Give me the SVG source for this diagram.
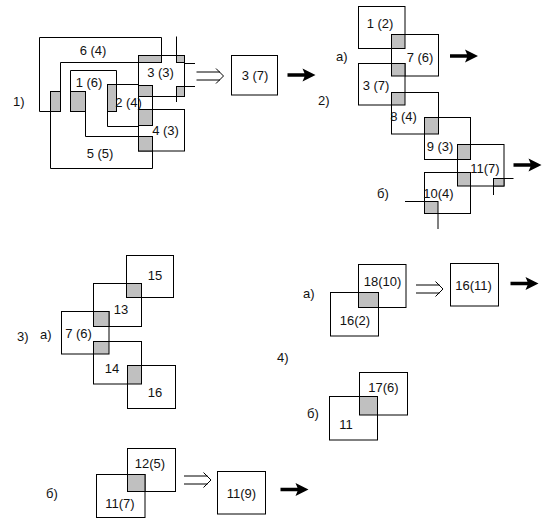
<svg xmlns="http://www.w3.org/2000/svg" xmlns:xlink="http://www.w3.org/1999/xlink" width="553" height="528" viewBox="0 0 553 528">
<style>
  .bx{fill:#ffffff;stroke:#000;stroke-width:1}
  .ln{fill:none;stroke:#000;stroke-width:1}
  .gr{fill:#c0c0c0;stroke:#000;stroke-width:1}
  text{font-family:"Liberation Sans",Arial,sans-serif;font-size:13px;fill:#111;text-anchor:middle}
  .lbl{text-anchor:start}
  .dbl{fill:none;stroke:#000;stroke-width:1}
</style>
<defs>
  <path id="bold" d="M0,-1.7 H17 L15,-6.5 L28,0 L15,6.5 L17,1.7 H0 Z" fill="#000"/>
  <g id="dblarrow" class="dbl">
    <line x1="0" y1="-4" x2="23.5" y2="-4"/>
    <line x1="0" y1="4" x2="23.5" y2="4"/>
    <polyline points="19.5,-7.5 27,0 19.5,7.5"/>
  </g>
</defs>
<rect width="553" height="528" fill="#fff"/>

<!-- Part 1 -->
<g id="part1">
  <text class="lbl" x="13" y="106">1)</text>
  <g id="n1-regions">
    <path class="ln" d="M50.5 111.5 H39.5 V37.5 H161.5 V55.5"/>
    <path class="ln" d="M60.5 91.5 V62.5 H138.5"/>
    <path class="ln" d="M70.5 91.5 V70.5 H116.5 V84.5"/>
    <path class="ln" d="M107.5 111.5 V126.5 H138.5"/>
    <path class="ln" d="M107.5 84.5 H152.5 V168.5 H50.5 V111.5"/>
    <path class="ln" d="M85.5 111.5 V136.5 H138.5"/>
    <path class="ln" d="M138.5 96.5 V109.5"/>
  </g>
  <g id="n1-3-3">
    <rect class="bx" x="138.5" y="55.5" width="46" height="41"/>
    <rect class="gr" x="138.5" y="55.5" width="23" height="7"/>
    <rect class="gr" x="176.5" y="55.5" width="8" height="7"/>
    <rect class="gr" x="176.5" y="86.5" width="8" height="10"/>
    <rect class="gr" x="138.5" y="85.5" width="14" height="11"/>
    <path class="ln" d="M176.5 36.5 V55.5 M184.5 63.5 H195 M184.5 86.5 H195 M176.5 96.5 V102"/>
    <text x="160.5" y="77">3 (3)</text>
  </g>
  <g id="n1-4-3">
    <rect class="bx" x="138.5" y="109.5" width="46" height="41.5"/>
    <rect class="gr" x="138.5" y="109.5" width="14" height="16"/>
    <rect class="gr" x="138.5" y="136.5" width="14" height="14.5"/>
    <text x="165.5" y="135">4 (3)</text>
  </g>
  <g id="n1-grey">
    <rect class="gr" x="50.5" y="91.5" width="10" height="20"/>
    <rect class="gr" x="70.5" y="91.5" width="15" height="20"/>
    <rect class="gr" x="107.5" y="84.5" width="9" height="27"/>
  </g>
  <text x="93" y="54.5">6 (4)</text>
  <text x="89" y="86.5">1 (6)</text>
  <text x="128.5" y="107">2 (4)</text>
  <text x="100" y="158">5 (5)</text>
  <g id="n1-3-7">
    <rect class="bx" x="231.5" y="55.5" width="46" height="39.5"/>
    <text x="255" y="80">3 (7)</text>
  </g>
</g>

<!-- Part 2 -->
<g id="part2">
  <text class="lbl" x="318" y="105">2)</text>
  <text class="lbl" x="336" y="61">а)</text>
  <text class="lbl" x="377" y="198">б)</text>
  <g id="n2-1-2"><rect class="bx" x="358.5" y="6.5" width="46.5" height="42"/><text x="380" y="28">1 (2)</text></g>
  <g id="n2-7-6"><rect class="bx" x="391.5" y="34.5" width="47" height="41.5"/><text x="420" y="61.5">7 (6)</text></g>
  <g id="n2-3-7"><rect class="bx" x="358.5" y="63.5" width="46.5" height="41.5"/><text x="376" y="89.5">3 (7)</text></g>
  <g id="n2-8-4"><rect class="bx" x="391.5" y="92.5" width="47" height="41.5"/><text x="403.5" y="120.5">8 (4)</text></g>
  <g id="n2-9-3"><rect class="bx" x="424.5" y="117.5" width="46" height="42"/><text x="440" y="150.5">9 (3)</text></g>
  <g id="n2-11-7"><rect class="bx" x="457.5" y="144.5" width="46.5" height="41.5"/><text x="485" y="173">11(7)</text></g>
  <g id="n2-10-4"><rect class="bx" x="424.5" y="172.5" width="46" height="41"/><text x="438.5" y="198">10(4)</text></g>
  <g id="n2-grey">
    <rect class="gr" x="391.5" y="34.5" width="13.5" height="14"/>
    <rect class="gr" x="391.5" y="63.5" width="13.5" height="12.5"/>
    <rect class="gr" x="391.5" y="92.5" width="13.5" height="12.5"/>
    <rect class="gr" x="424.5" y="117.5" width="14" height="16.5"/>
    <rect class="gr" x="457.5" y="144.5" width="13" height="15"/>
    <rect class="gr" x="457.5" y="172.5" width="13" height="13.5"/>
    <rect class="gr" x="493.5" y="178.5" width="10.5" height="7.5"/>
    <rect class="gr" x="424.5" y="201.5" width="13.5" height="12"/>
    <path class="ln" d="M504 178.5 H513.5 M493.5 186 V195 M405 201.5 H424.5 M438 213.5 V229"/>
  </g>
</g>

<!-- Part 3 -->
<g id="part3">
  <text class="lbl" x="17" y="341">3)</text>
  <text class="lbl" x="40" y="339">а)</text>
  <g id="n3-15"><rect class="bx" x="126.5" y="255.5" width="47" height="42"/><text x="155" y="280">15</text></g>
  <g id="n3-13"><rect class="bx" x="93.5" y="283.5" width="48" height="43"/><text x="121" y="314">13</text></g>
  <g id="n3-7-6"><rect class="bx" x="61.5" y="311.5" width="47.5" height="42.5"/><text x="78.5" y="337.5">7 (6)</text></g>
  <g id="n3-14"><rect class="bx" x="93.5" y="341.5" width="48" height="42.5"/><text x="112" y="373">14</text></g>
  <g id="n3-16"><rect class="bx" x="127.5" y="365.5" width="48" height="43"/><text x="155" y="396.5">16</text></g>
  <g id="n3-grey">
    <rect class="gr" x="126.5" y="283.5" width="15" height="14"/>
    <rect class="gr" x="93.5" y="311.5" width="15.5" height="15"/>
    <rect class="gr" x="93.5" y="341.5" width="15.5" height="12.5"/>
    <rect class="gr" x="127.5" y="365.5" width="14" height="18.5"/>
  </g>
  <text class="lbl" x="46" y="498">б)</text>
  <g id="n3-12-5"><rect class="bx" x="127.5" y="448.5" width="48" height="43"/><text x="150" y="468">12(5)</text></g>
  <g id="n3-11-7"><rect class="bx" x="96.5" y="474.5" width="48.5" height="43"/><text x="120" y="507.5">11(7)</text></g>
  <rect class="gr" x="127.5" y="474.5" width="17.5" height="17"/>
  <g id="n3-11-9"><rect class="bx" x="217.5" y="471.5" width="48" height="42.5"/><text x="241.5" y="498">11(9)</text></g>
</g>

<!-- Part 4 -->
<g id="part4">
  <text class="lbl" x="277" y="361.5">4)</text>
  <text class="lbl" x="303" y="298">а)</text>
  <text class="lbl" x="307" y="418">б)</text>
  <g id="n4-18-10"><rect class="bx" x="358.5" y="264.5" width="47.5" height="43"/><text x="382.5" y="285.5">18(10)</text></g>
  <g id="n4-16-2"><rect class="bx" x="330.5" y="292.5" width="48" height="43.5"/><text x="355" y="325">16(2)</text></g>
  <rect class="gr" x="358.5" y="292.5" width="20" height="15"/>
  <g id="n4-16-11"><rect class="bx" x="450.5" y="263.5" width="48" height="42.5"/><text x="473.5" y="290">16(11)</text></g>
  <g id="n4-17-6"><rect class="bx" x="359.5" y="372.5" width="48" height="42.5"/><text x="383.5" y="391.5">17(6)</text></g>
  <g id="n4-11"><rect class="bx" x="329.5" y="396.5" width="48" height="43.5"/><text x="346" y="429">11</text></g>
  <rect class="gr" x="359.5" y="396.5" width="18" height="18.5"/>
</g>

<!-- Connectors -->
<g id="connectors">
  <use xlink:href="#dblarrow" href="#dblarrow" transform="translate(196.5,76)"/>
  <use xlink:href="#dblarrow" href="#dblarrow" transform="translate(416,289)"/>
  <use xlink:href="#dblarrow" href="#dblarrow" transform="translate(184,480)"/>
  <use xlink:href="#bold" href="#bold" transform="translate(287.5,75)"/>
  <use xlink:href="#bold" href="#bold" transform="translate(450,56)"/>
  <use xlink:href="#bold" href="#bold" transform="translate(513.5,165)"/>
  <use xlink:href="#bold" href="#bold" transform="translate(510.5,283.5)"/>
  <use xlink:href="#bold" href="#bold" transform="translate(280.5,489.5)"/>
</g>
</svg>
